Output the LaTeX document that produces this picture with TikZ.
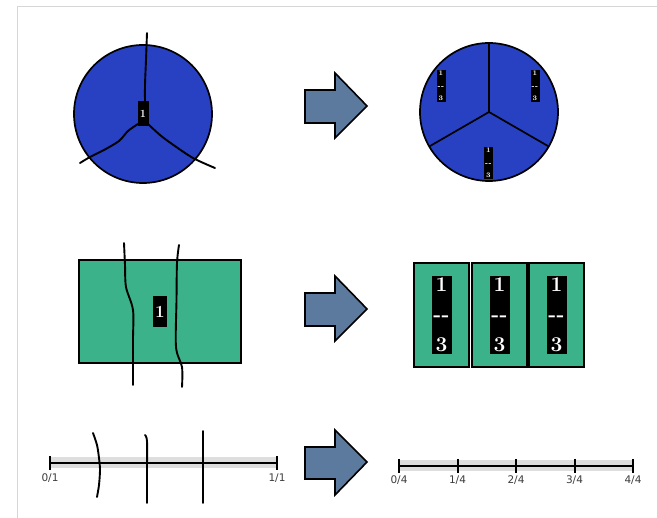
\documentclass[tikz,border=0pt]{standalone}
\usepackage{fontspec}
\newfontfamily\tickfont{DejaVu Sans}
\definecolor{pieblue}{RGB}{40,64,194}
\definecolor{barGreen}{RGB}{60,178,138}
\definecolor{arrowfill}{RGB}{92,122,158}
\definecolor{bandgray}{RGB}{222,222,222}
\definecolor{framegray}{RGB}{214,214,214}
\definecolor{ticktext}{RGB}{60,60,60}
\newcommand{\twodash}{{-}\kern0.5pt{-}}
\tikzset{
  cutline/.style={line width=1.9pt, line cap=round, line join=round},
  outline/.style={line width=1.7pt},
  smalllab/.style={fill=black, text=white, inner sep=0.8pt, align=center,
    font=\bfseries\fontsize{7}{12.5}\selectfont},
  biglab/.style={fill=black, text=white, inner sep=1.5pt, align=center, minimum width=20pt,
    font=\bfseries\fontsize{21}{30}\selectfont},
  bigarrow/.style={fill=arrowfill, draw=black, line width=1.6pt, line join=miter},
  band/.style={fill=bandgray, draw=none},
  nline/.style={line width=2pt, draw=black},
  ticklab/.style={font=\tickfont\fontsize{10.5}{12}\selectfont, text=ticktext, inner sep=0pt}
}
\begin{document}
\begin{tikzpicture}[x=1pt,y=-1pt]
\useasboundingbox (0,0) rectangle (657,518);
\fill[white] (0,0) rectangle (657,518);
% frame
\draw[framegray, line width=1pt] (17,518) -- (17,6.5) -- (657,6.5);

% ---------- top row ----------
\coordinate (c1) at (143,114);
\draw[outline, fill=pieblue] (c1) circle[radius=69];
\draw[cutline] plot[smooth] coordinates {(147,33) (146,60) (145,85) (145,104)};
\draw[cutline] plot[smooth] coordinates {(138,124) (128,131) (119,141) (104,150) (90,157) (80,163)};
\draw[cutline] plot[smooth] coordinates {(148,124) (160,135) (172,144) (193,158) (215,168)};
\node[fill=black, text=white, inner sep=0pt, minimum width=11pt, minimum height=25pt,
  font=\bfseries\fontsize{11}{12}\selectfont] (one1) at (143,114) {1};

\coordinate (c2) at (489,112);
\draw[outline, fill=pieblue] (c2) circle[radius=69];
\draw[outline] (c2) -- ++(270:69) coordinate (p1);
\draw[outline] (c2) -- ++(150:69) coordinate (p2);
\draw[outline] (c2) -- ++(30:69) coordinate (p3);
\node[smalllab, minimum width=9pt] (t1) at (441,86) {1\\\twodash\\3};
\node[smalllab, minimum width=9pt] (t2) at (535,86) {1\\\twodash\\3};
\node[smalllab, minimum width=9pt] (t3) at (488.5,163) {1\\\twodash\\3};

\draw[bigarrow] (305,90) -- (335,90) -- (335,73) -- (367,106) -- (335,138) -- (335,123) -- (305,123) -- cycle;

% ---------- middle row ----------
\node[draw=black, outline, fill=barGreen, minimum width=162pt, minimum height=103pt, inner sep=0pt] (rect) at (160,311.5) {};
\draw[cutline] plot[smooth] coordinates {(124,243) (125,265) (126,287) (133,310) (133,340) (133,385)};
\draw[cutline] plot[smooth] coordinates {(179,245) (177,263) (176.5,300) (176,347) (182,367) (182,387)};
\node[fill=black, text=white, inner sep=0pt, minimum width=14pt, minimum height=31pt,
  font=\bfseries\fontsize{17}{20}\selectfont] (one2) at (160,311.5) {1};

\node[draw=black, outline, fill=barGreen, minimum width=55pt, minimum height=104pt, inner sep=0pt] (r1) at (441.5,315) {};
\node[draw=black, outline, fill=barGreen, minimum width=55pt, minimum height=104pt, inner sep=0pt] (r2) at (499.5,315) {};
\node[draw=black, outline, fill=barGreen, minimum width=55pt, minimum height=104pt, inner sep=0pt] (r3) at (556.5,315) {};
\node[biglab] (b1) at (r1) {1\\\twodash\\3};
\node[biglab] (b2) at (r2) {1\\\twodash\\3};
\node[biglab] (b3) at (r3) {1\\\twodash\\3};

\draw[bigarrow] (305,293) -- (335,293) -- (335,276) -- (367,309) -- (335,341) -- (335,326) -- (305,326) -- cycle;

% ---------- bottom row ----------
\fill[band] (50,457) rectangle (277,468);
\coordinate (l0) at (50,463);
\coordinate (l1) at (277,463);
\draw[nline] (l0) -- (l1);
\draw[nline] (50,456) -- (50,470);
\draw[nline] (277,456) -- (277,470);
\node[ticklab] (z1) at (50,478) {0/1};
\node[ticklab] (o1) at (277,478) {1/1};
\draw[cutline] plot[smooth] coordinates {(93,433) (97,445) (99,458) (100,470) (99,485) (97,497)};
\draw[cutline] plot[smooth] coordinates {(145,435) (147,441) (147,470) (147,503)};
\draw[cutline] (203,431) -- (203,503);

\draw[bigarrow] (305,447) -- (335,447) -- (335,430) -- (367,462) -- (335,495) -- (335,479) -- (305,479) -- cycle;

\fill[band] (399,460) rectangle (633,471);
\coordinate (m0) at (399,466);
\coordinate (m4) at (633,466);
\draw[nline] (m0) -- (m4);
\foreach \i/\xx in {0/399,1/457.5,2/516,3/574.5,4/633}{
  \draw[nline] (\xx,459) -- (\xx,473);
  \node[ticklab] (q\i) at (\xx,480.5) {\i/4};
}
\end{tikzpicture}
\end{document}
